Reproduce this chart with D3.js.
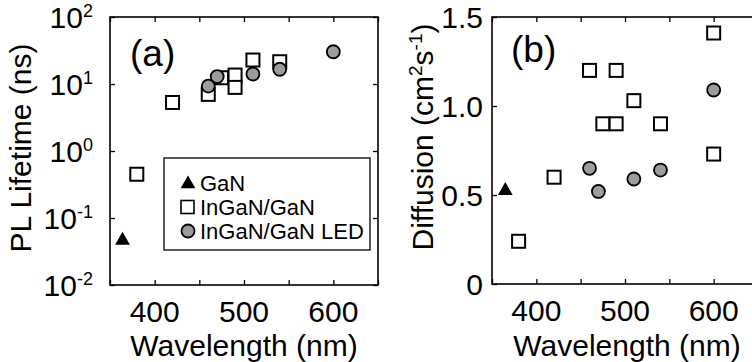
<!DOCTYPE html>
<html>
<head>
<meta charset="utf-8">
<script src="https://cdn.jsdelivr.net/npm/d3@7"></script>
<style>
  body { margin: 0; background: #fff; }
  svg { display: block; }
</style>
</head>
<body>
<div id="chart"></div>
<script>
// panel (a): PL lifetime (ns) vs wavelength (nm)
const ganWaveA = [364];
const ganLifetime = [0.048];
const inganWaveA = [380, 420, 460, 475, 490, 490, 510, 540];
const inganLifetime = [0.45, 5.3, 7.0, 12.4, 13.6, 8.9, 22.8, 21.5];
const ledWaveA = [460, 470, 510, 540, 600];
const ledLifetime = [9.3, 12.9, 14.1, 16.6, 30.3];

// panel (b): diffusion (cm2/s) vs wavelength (nm)
const ganWaveB = [365];
const ganDiffusion = [0.53];
const inganWaveB = [380, 420, 460, 490, 475, 490, 510, 540, 600, 600];
const inganDiffusion = [0.24, 0.60, 1.20, 1.20, 0.90, 0.90, 1.03, 0.90, 1.41, 0.73];
const ledWaveB = [460, 470, 510, 540, 600];
const ledDiffusion = [0.65, 0.52, 0.59, 0.64, 1.09];

const xTicks = [400, 500, 600];
const xMinorTicks = [350, 400, 450, 500, 550, 600, 650];
const logExponents = [-2, -1, 0, 1, 2];
const diffTicks = [0, 0.5, 1.0, 1.5];
const legendLabels = ['GaN', 'InGaN/GaN', 'InGaN/GaN LED'];

const W = 752, H = 362;
const FONT = 30;
const CIRCLE_FILL = '#9c9c9c';

const svg = d3.select('#chart').append('svg')
  .attr('width', W).attr('height', H)
  .attr('font-family', "'Liberation Sans', Arial, Helvetica, sans-serif");

const pairs = (xs, ys) => xs.map((x, i) => ({ x: x, y: ys[i] }));

const tri = d3.symbol().type(d3.symbolTriangle).size(95);

function drawMarkers(g, x, y, gan, ingan, led) {
  g.selectAll('path.gan')
    .data(gan)
    .join('path')
    .attr('class', 'gan')
    .attr('d', tri)
    .attr('transform', (d) => `translate(${x(d.x)},${y(d.y) + 1})`)
    .attr('fill', '#000');

  g.selectAll('rect.ingan')
    .data(ingan)
    .join('rect')
    .attr('class', 'ingan')
    .attr('x', (d) => x(d.x) - 6.5)
    .attr('y', (d) => y(d.y) - 6.5)
    .attr('width', 13)
    .attr('height', 13)
    .attr('fill', '#fff')
    .attr('stroke', '#000')
    .attr('stroke-width', 2);

  g.selectAll('circle.led')
    .data(led)
    .join('circle')
    .attr('class', 'led')
    .attr('cx', (d) => x(d.x))
    .attr('cy', (d) => y(d.y))
    .attr('r', 6.5)
    .attr('fill', CIRCLE_FILL)
    .attr('stroke', '#000')
    .attr('stroke-width', 1.8);
}

function xAxes(g, x, top, bottom) {
  // ticks point inward on both the bottom and the top edge
  g.append('g')
    .attr('transform', `translate(0,${bottom})`)
    .call(d3.axisBottom(x).tickValues(xMinorTicks).tickSizeInner(-5).tickSizeOuter(0).tickFormat(''));
  g.append('g')
    .attr('transform', `translate(0,${top})`)
    .call(d3.axisTop(x).tickValues(xMinorTicks).tickSizeInner(-5).tickSizeOuter(0).tickFormat(''));

  g.selectAll('.xlab')
    .data(xTicks)
    .join('text')
    .attr('class', 'xlab')
    .attr('x', (d) => x(d))
    .attr('y', bottom + 37)
    .attr('text-anchor', 'middle')
    .attr('font-size', FONT)
    .text((d) => d);
}

// ---------- panel (a) ----------
const xa = d3.scaleLinear().domain([350, 650]).range([110, 378]);
const ya = d3.scaleLog().domain([0.01, 100]).range([285, 17]);
const ga = svg.append('g');

xAxes(ga, xa, 17, 285);
ga.append('g')
  .attr('transform', 'translate(110,0)')
  .call(d3.axisLeft(ya).tickValues(logExponents.map((e) => Math.pow(10, e)))
    .tickSizeInner(-5).tickSizeOuter(0).tickFormat(''));
ga.append('g')
  .attr('transform', 'translate(378,0)')
  .call(d3.axisRight(ya).tickValues(logExponents.map((e) => Math.pow(10, e)))
    .tickSizeInner(-5).tickSizeOuter(0).tickFormat(''));

ga.append('rect')
  .attr('x', 110).attr('y', 17)
  .attr('width', 268).attr('height', 268)
  .attr('fill', 'none').attr('stroke', '#000').attr('stroke-width', 1.6);

const ylabA = ga.selectAll('.ylab')
  .data(logExponents)
  .join('text')
  .attr('class', 'ylab')
  .attr('x', 93)
  .attr('y', (d) => ya(Math.pow(10, d)) + 11)
  .attr('text-anchor', 'end')
  .attr('font-size', FONT);
ylabA.append('tspan').text('10');
ylabA.append('tspan')
  .attr('font-size', 18)
  .attr('dy', -11)
  .text((d) => d);

ga.append('text')
  .attr('transform', 'translate(31,148) rotate(-90)')
  .attr('text-anchor', 'middle')
  .attr('font-size', FONT)
  .text('PL Lifetime (ns)');

ga.append('text')
  .attr('x', 244).attr('y', 356)
  .attr('text-anchor', 'middle')
  .attr('font-size', FONT)
  .text('Wavelength (nm)');

ga.append('text')
  .attr('x', 130).attr('y', 66)
  .attr('font-size', 37)
  .text('(a)');

// legend
const legend = ga.append('g');
legend.append('rect')
  .attr('x', 164).attr('y', 158)
  .attr('width', 206).attr('height', 92)
  .attr('fill', '#fff').attr('stroke', '#000').attr('stroke-width', 1.3);
const legendY = d3.scalePoint().domain(legendLabels).range([183, 231]);
legend.append('path')
  .attr('d', tri)
  .attr('transform', `translate(188,${legendY('GaN') + 1})`)
  .attr('fill', '#000');
legend.append('rect')
  .attr('x', 181).attr('y', legendY('InGaN/GaN') - 6.5)
  .attr('width', 13).attr('height', 13)
  .attr('fill', '#fff').attr('stroke', '#000').attr('stroke-width', 1.6);
legend.append('circle')
  .attr('cx', 188).attr('cy', legendY('InGaN/GaN LED'))
  .attr('r', 6.5)
  .attr('fill', CIRCLE_FILL).attr('stroke', '#000').attr('stroke-width', 1.8);
legend.selectAll('text')
  .data(legendLabels)
  .join('text')
  .attr('x', 200)
  .attr('y', (d) => legendY(d) + 8)
  .attr('font-size', 22)
  .text((d) => d);

drawMarkers(ga.append('g'), xa, ya,
  pairs(ganWaveA, ganLifetime),
  pairs(inganWaveA, inganLifetime),
  pairs(ledWaveA, ledLifetime));

// ---------- panel (b) ----------
const xb = d3.scaleLinear().domain([350, 650]).range([492, 758]);
const yb = d3.scaleLinear().domain([0, 1.5]).range([284, 17]);
const gb = svg.append('g');

xAxes(gb, xb, 17, 284);
gb.append('g')
  .attr('transform', 'translate(492,0)')
  .call(d3.axisLeft(yb).tickValues(diffTicks).tickSizeInner(-5).tickSizeOuter(0).tickFormat(''));

gb.append('rect')
  .attr('x', 492).attr('y', 17)
  .attr('width', 266).attr('height', 267)
  .attr('fill', 'none').attr('stroke', '#000').attr('stroke-width', 1.6);

gb.selectAll('.ylab')
  .data(diffTicks)
  .join('text')
  .attr('class', 'ylab')
  .attr('x', 483)
  .attr('y', (d) => yb(d) + 11)
  .attr('text-anchor', 'end')
  .attr('font-size', FONT)
  .text((d) => (d === 0 ? '0' : d3.format('.1f')(d)));

const ytitleB = gb.append('text')
  .attr('transform', 'translate(433,137) rotate(-90)')
  .attr('text-anchor', 'middle')
  .attr('font-size', FONT);
ytitleB.append('tspan').text('Diffusion (cm');
ytitleB.append('tspan').attr('font-size', 19).attr('dy', -11).text('2');
ytitleB.append('tspan').attr('dy', 11).text('s');
ytitleB.append('tspan').attr('font-size', 19).attr('dy', -11).text('-1');
ytitleB.append('tspan').attr('dy', 11).text(')');

gb.append('text')
  .attr('x', 627).attr('y', 356)
  .attr('text-anchor', 'middle')
  .attr('font-size', FONT)
  .text('Wavelength (nm)');

gb.append('text')
  .attr('x', 511).attr('y', 62)
  .attr('font-size', 37)
  .text('(b)');

drawMarkers(gb.append('g'), xb, yb,
  pairs(ganWaveB, ganDiffusion),
  pairs(inganWaveB, inganDiffusion),
  pairs(ledWaveB, ledDiffusion));

svg.selectAll('.domain').remove();
svg.selectAll('.tick line').attr('stroke', '#000').attr('stroke-width', 1.3);
</script>
</body>
</html>
